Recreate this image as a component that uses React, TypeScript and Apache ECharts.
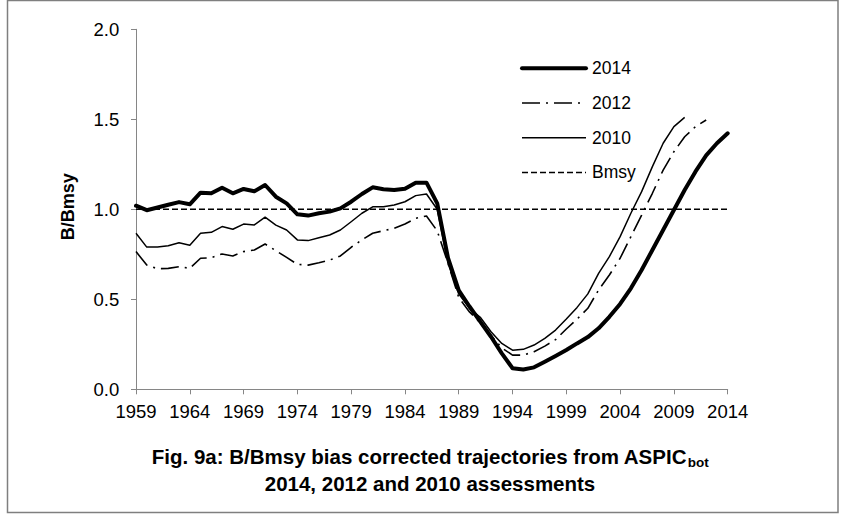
import React, { useEffect, useRef } from "react";
import * as echarts from "echarts";

const YEARS = [
  "1959", "1960", "1961", "1962", "1963", "1964", "1965", "1966", "1967", "1968",
  "1969", "1970", "1971", "1972", "1973", "1974", "1975", "1976", "1977", "1978",
  "1979", "1980", "1981", "1982", "1983", "1984", "1985", "1986", "1987", "1988",
  "1989", "1990", "1991", "1992", "1993", "1994", "1995", "1996", "1997", "1998",
  "1999", "2000", "2001", "2002", "2003", "2004", "2005", "2006", "2007", "2008",
  "2009", "2010", "2011", "2012", "2013", "2014",
];

// 2014 assessment, 1959-2014
const B_2014 = [
  1.02, 0.995, 1.01, 1.025, 1.04, 1.028, 1.092, 1.089, 1.12, 1.089,
  1.113, 1.1, 1.135, 1.07, 1.033, 0.972, 0.965, 0.978, 0.987, 1.005,
  1.042, 1.085, 1.122, 1.111, 1.107, 1.114, 1.148, 1.148, 1.033, 0.73,
  0.55, 0.46, 0.376, 0.292, 0.2, 0.117, 0.11, 0.122, 0.153, 0.185,
  0.218, 0.255, 0.29, 0.339, 0.403, 0.474, 0.561, 0.663, 0.774, 0.885,
  0.996, 1.107, 1.209, 1.3, 1.367, 1.422,
];

// 2012 assessment, 1959-2012
const B_2012 = [
  0.765, 0.69, 0.67, 0.672, 0.681, 0.672, 0.728, 0.731, 0.752, 0.741,
  0.765, 0.774, 0.807, 0.77, 0.733, 0.694, 0.69, 0.703, 0.718, 0.741,
  0.789, 0.83, 0.867, 0.881, 0.894, 0.918, 0.95, 0.963, 0.88, 0.7,
  0.51, 0.43, 0.37, 0.3, 0.23, 0.19, 0.19, 0.209, 0.24, 0.276,
  0.335, 0.39, 0.45, 0.552, 0.635, 0.728, 0.848, 0.968, 1.089, 1.218,
  1.32, 1.403, 1.459, 1.496,
];

// 2010 assessment, 1959-2010
const B_2010 = [
  0.867, 0.79, 0.79, 0.798, 0.814, 0.8, 0.867, 0.872, 0.904, 0.889,
  0.918, 0.913, 0.956, 0.912, 0.885, 0.83, 0.826, 0.842, 0.857, 0.885,
  0.931, 0.978, 1.014, 1.014, 1.024, 1.042, 1.076, 1.085, 1.0, 0.7,
  0.53, 0.45, 0.4, 0.32, 0.255, 0.217, 0.222, 0.246, 0.283, 0.329,
  0.39, 0.455, 0.53, 0.644, 0.737, 0.848, 0.978, 1.098, 1.237, 1.367,
  1.459, 1.511,
];

const BMSY_LEVEL = 1.0;
const SERIES_NAMES = ["2014", "2012", "2010", "Bmsy"];
const Y_MIN = 0;
const Y_MAX = 2;
const Y_STEP = 0.5;

const TITLE_MAIN = "Fig. 9a: B/Bmsy bias corrected trajectories from ASPIC";
const TITLE_SUB = "bot";
const TITLE_LINE2 = "2014, 2012 and 2010 assessments";
const Y_NAME = "B/Bmsy";

const FONT = "'Liberation Sans', Arial, Helvetica, sans-serif";
const AXIS_GRAY = "#868686";

// line styles per series (same order as SERIES_NAMES)
const STYLES = [
  { width: 4, dash: null as number[] | null },
  { width: 1.6, dash: [18, 6, 2, 6] },
  { width: 1.5, dash: null as number[] | null },
  { width: 1.5, dash: [6, 3] },
];

function measure(text: string, font: string): number {
  const c = document.createElement("canvas");
  const ctx = c.getContext("2d");
  if (!ctx) return text.length * 10;
  ctx.font = font;
  return ctx.measureText(text).width;
}

export default function App() {
  const ref = useRef<HTMLDivElement>(null);

  useEffect(() => {
    if (!ref.current) return;
    const chart = echarts.init(ref.current, undefined, { renderer: "svg" });

    const titleSize = 20.5;
    const subSize = 13.5;
    const titleCx = 430;
    const wMain = measure(TITLE_MAIN, `bold ${titleSize}px 'Liberation Sans'`);
    const wSub = measure(TITLE_SUB, `bold ${subSize}px 'Liberation Sans'`);
    const startX = titleCx - (wMain + wSub) / 2;
    const line1Y = 456;
    const line2Y = 483;

    const legendX = 522;
    const legendLen = 64;
    const legendY0 = 68.3;
    const legendStep = 34.7;

    const legendGraphics: any[] = [];
    SERIES_NAMES.forEach((name, i) => {
      const y = legendY0 + i * legendStep;
      const st = STYLES[i];
      legendGraphics.push({
        type: "line",
        shape: { x1: legendX, y1: y, x2: legendX + legendLen, y2: y },
        style: {
          stroke: "#000",
          lineWidth: st.width,
          lineDash: st.dash || undefined,
          lineCap: i === 0 ? "round" : "butt",
        },
        silent: true,
      });
      legendGraphics.push({
        type: "text",
        x: legendX + legendLen + 6,
        y,
        style: {
          text: name,
          fill: "#000",
          font: `17.5px ${FONT}`,
          textAlign: "left",
          textVerticalAlign: "middle",
        },
        silent: true,
      });
    });

    const lineSeries = (name: string, data: any[], i: number, z: number) => ({
      name,
      type: "line",
      data,
      symbol: "none",
      color: "#000",
      lineStyle: {
        color: "#000",
        width: STYLES[i].width,
        type: STYLES[i].dash || "solid",
        join: "round",
        cap: i === 0 ? "round" : "butt",
      },
      z,
    });

    const option: any = {
      animation: false,
      backgroundColor: "#fff",
      grid: { left: 136, right: 116.3, top: 29.3, bottom: 128.7, containLabel: false },
      xAxis: {
        type: "category",
        data: YEARS,
        boundaryGap: false,
        axisLine: { lineStyle: { color: AXIS_GRAY, width: 1 } },
        axisTick: { interval: 4, length: 5, lineStyle: { color: AXIS_GRAY } },
        axisLabel: {
          interval: 4,
          color: "#000",
          fontSize: 18.5,
          fontFamily: FONT,
          margin: 12.5,
        },
        splitLine: { show: false },
      },
      yAxis: {
        type: "value",
        min: Y_MIN,
        max: Y_MAX,
        interval: Y_STEP,
        axisLine: { show: true, lineStyle: { color: AXIS_GRAY, width: 1 } },
        axisTick: { show: true, length: 5, lineStyle: { color: AXIS_GRAY } },
        axisLabel: {
          color: "#000",
          fontSize: 18.5,
          fontFamily: FONT,
          margin: 16.7,
          formatter: (v: number) => v.toFixed(1),
        },
        splitLine: { show: false },
      },
      legend: { show: false },
      series: [
        lineSeries(
          SERIES_NAMES[3],
          [
            [YEARS[0], BMSY_LEVEL],
            [YEARS[YEARS.length - 1], BMSY_LEVEL],
          ],
          3,
          1
        ),
        lineSeries(SERIES_NAMES[2], B_2010, 2, 2),
        lineSeries(SERIES_NAMES[1], B_2012, 1, 3),
        lineSeries(SERIES_NAMES[0], B_2014, 0, 4),
      ],
      graphic: [
        {
          type: "rect",
          shape: { x: 7.5, y: 0.5, width: 830.5, height: 512 },
          style: { fill: "none", stroke: "#7f7f7f", lineWidth: 1.5 },
          silent: true,
        },
        {
          type: "text",
          x: 67.5,
          y: 206.7,
          rotation: Math.PI / 2,
          style: {
            text: Y_NAME,
            fill: "#000",
            font: `bold 18px ${FONT}`,
            textAlign: "center",
            textVerticalAlign: "middle",
          },
        },
        {
          type: "text",
          x: startX,
          y: line1Y,
          style: {
            text: TITLE_MAIN,
            fill: "#000",
            font: `bold ${titleSize}px ${FONT}`,
            textAlign: "left",
            textVerticalAlign: "middle",
          },
        },
        {
          type: "text",
          x: startX + wMain + 0.5,
          y: line1Y + 6.5,
          style: {
            text: TITLE_SUB,
            fill: "#000",
            font: `bold ${subSize}px ${FONT}`,
            textAlign: "left",
            textVerticalAlign: "middle",
          },
        },
        {
          type: "text",
          x: titleCx,
          y: line2Y,
          style: {
            text: TITLE_LINE2,
            fill: "#000",
            font: `bold ${titleSize}px ${FONT}`,
            textAlign: "center",
            textVerticalAlign: "middle",
          },
        },
        ...legendGraphics,
      ],
    };

    chart.setOption(option);
    return () => {
      chart.dispose();
    };
  }, []);

  return (
    <div
      ref={ref}
      style={{ position: "fixed", left: 0, top: 0, width: 844, height: 518, background: "#fff" }}
    />
  );
}
